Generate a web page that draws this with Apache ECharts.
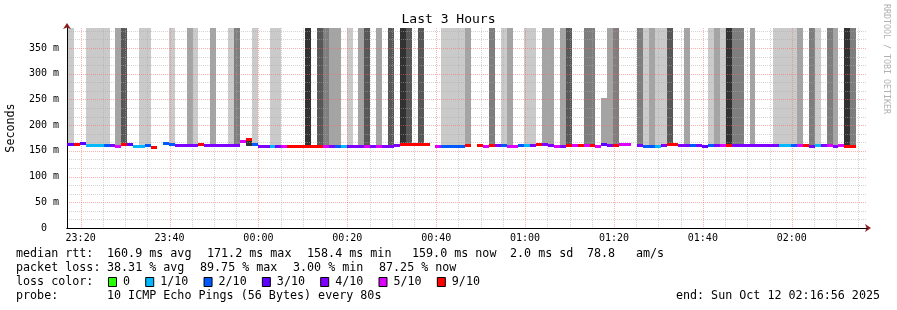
<!DOCTYPE html>
<html><head><meta charset="utf-8">
<script src="https://cdn.jsdelivr.net/npm/echarts@6/dist/echarts.min.js"></script>
<style>html,body{margin:0;padding:0;background:#fff}#c{width:897px;height:310px}</style>
</head><body><div id="c"></div>
<script>
// ---------- data ----------
const chartStart = '23:16:56';
const chartSpanSeconds = 3 * 3600;
const pingStepSeconds = 80;
const firstStepEndSeconds = 14.5;      // first 80 s step boundary after chart start
const yAxisMaxMs = 389;
const yLabelStepMs = 50;
const yMinorPerMajor = 3;
const timeTickLabels = ['23:20','23:40','00:00','00:20','00:40','01:00','01:20','01:40','02:00'];
const minorTickMinutes = 5;

// median rtt per 80 s step (ms), null = no data
const medianMs = [
 163,163,163,165,161,161,161,161,161,159, 162,162,159,159,160,157,null,164,163,161,
 161,161,161,162,161,161,161,161,161,161, 168,171.2,162,159,158,158,158,158,159,159,
 159,159,159,159,158,159,159,159,159,159, 159,159,159,159,159,159,161,163,162,162,
 162,162,null,158,158,158,158,158,160,null, 160,159,160,160,160,158,158,160,160,160,
 162,162,160,158,159,160,160,160,160,160, 158,162,160,160,162,162,null,160,158,159,
 159,160,162,162,160,160,160,160,159,160, 160,160,160,160,160,160,160,160,160,160,
 160,160,160,160,160,160,158,160,160,160, 158,160,159,159,null,null
];
// packet loss per step (tenths lost, 9 = 6..10 bucket)
const lossTenths = [
 3,3,9,3,1,1,1,2,4,5, 9,3,1,1,2,9,0,2,2,4,
 4,4,4,9,4,4,4,4,4,4, 5,9,2,4,4,1,4,5,9,9,
 9,9,9,9,5,4,2,1,4,4, 4,5,4,5,4,4,4,9,9,9,
 9,9,0,5,2,2,2,2,9,0, 9,5,9,4,2,5,5,2,1,4,
 9,4,4,5,4,9,5,9,5,9, 5,3,4,9,5,5,0,4,2,2,
 1,4,9,9,4,4,2,4,3,2, 4,5,9,4,4,4,4,4,4,4,
 4,1,1,2,5,9,4,1,4,5, 4,5,9,9,0,0
];
// smoke shade level per step (0 none, 1 lightest .. 5 darkest)
const smokeLevel = [
 1,1,0,0,1,1,1,1,0,2, 4,0,0,1,1,0,0,0,1,0,
 0,2,1,0,0,2,0,0,1,3, 0,0,1,0,0,1,1,0,0,0,
 0,5,0,4,3,2,2,0,1,0, 2,4,0,2,0,4,0,5,4,0,
 4,0,0,0,1,1,1,1,2,0, 0,0,3,0,1,2,0,0,1,1,
 0,2,2,0,2,4,0,0,3,3, 0,2,2,3,0,0,0,3,1,2,
 1,1,4,0,0,2,0,0,0,1, 2,1,5,3,3,0,2,0,0,0,
 1,1,1,1,2,0,3,1,0,3, 2,0,5,3,0,0
];
// top of smoke per step (ms); null = beyond chart top
const smokeTopMs = medianMs.map(() => null);
smokeTopMs[91] = 253;
// small smoke patches below the median: [step, low ms, high ms, level]
const nearSmoke = [[31, 159, 171.2, 5]];

const lossLegendLabels = ['0','1/10','2/10','3/10','4/10','5/10','9/10'];
const lossLegendTenths = [0,1,2,3,4,5,9];
const lossColors = ['#26ff00','#00b8ff','#0059ff','#5e00ff','#7e00ff','#dd00ff','#ff0000'];
const smokeGreys = ['#cacaca','#a4a4a4','#7e7e7e','#585858','#323232'];

const rttRow = ['median rtt:','160.9 ms avg','171.2 ms max','158.4 ms min','159.0 ms now','2.0 ms sd','78.8','am/s'];
const lossRow = ['packet loss:','38.31 % avg','89.75 % max','3.00 % min','87.25 % now'];
const probeRow = ['probe:','10 ICMP Echo Pings (56 Bytes) every 80s'];
const endText = 'end: Sun Oct 12 02:16:56 2025';
const titleText = 'Last 3 Hours';
const yName = 'Seconds';
const watermark = 'RRDTOOL / TOBI OETIKER';

// ---------- helpers ----------
const MONO = 'DejaVu Sans Mono';
const toSec = s => { const p = s.split(':').map(Number); return p[0]*3600 + p[1]*60 + (p[2]||0); };
const relSec = s => (toSec(s) - toSec(chartStart) + 86400) % 86400;
const lossColor = t => { let i = 0; lossLegendTenths.forEach((v,k)=>{ if (t >= v) i = k; }); return lossColors[i]; };
const stepStart = j => firstStepEndSeconds + (j-1)*pingStepSeconds;
const stepEnd = j => firstStepEndSeconds + j*pingStepSeconds;

const smokeData = [], medData = [];
medianMs.forEach((m, j) => {
  if (m == null) return;
  medData.push([stepStart(j), stepEnd(j), m, lossTenths[j]]);
  if (smokeLevel[j] > 0) smokeData.push([stepStart(j), stepEnd(j), m, smokeTopMs[j] == null ? yAxisMaxMs : smokeTopMs[j], smokeLevel[j]]);
});
nearSmoke.forEach(([j, lo, hi, lvl]) => smokeData.push([stepStart(j), stepEnd(j), lo, hi, lvl]));

const majorTimes = timeTickLabels.map(relSec);
const vGrid = [];
for (let t = majorTimes[0] - Math.floor(majorTimes[0]/(minorTickMinutes*60))*minorTickMinutes*60; t <= chartSpanSeconds; t += minorTickMinutes*60) {
  if (t <= 0) continue;
  vGrid.push([t, majorTimes.some(mt => Math.abs(mt - t) < 1) ? 1 : 0]);
}
const hGrid = [];
for (let k = 1; k * yLabelStepMs / yMinorPerMajor < yAxisMaxMs; k++) hGrid.push([k * yLabelStepMs / yMinorPerMajor, k % yMinorPerMajor === 0 ? 1 : 0]);

const clip = (r, cs) => echarts.graphic.clipRectByRect(r, {x: cs.x, y: cs.y, width: cs.width, height: cs.height});

const chart = echarts.init(document.getElementById('c'), null, {renderer: 'canvas'});

// legend graphics
const g = [];
const rowY = [254, 268, 282, 296];
const FONT = `11.7px "${MONO}"`;
const rttX = [16, 107, 207, 307, 412, 510, 587, 636];
rttRow.forEach((s,i)=>g.push({type:'text', x:rttX[i], y:rowY[0], style:{text:s, font:FONT, fill:'#000', verticalAlign:'middle'}}));
const lossX = [16, 107, 200, 293, 379];
lossRow.forEach((s,i)=>g.push({type:'text', x:lossX[i], y:rowY[1], style:{text:s, font:FONT, fill:'#000', verticalAlign:'middle'}}));
g.push({type:'text', x:16, y:rowY[2], style:{text:'loss color:', font:FONT, fill:'#000', verticalAlign:'middle'}});
let lx = 108;
lossLegendLabels.forEach((lab, i) => {
  g.push({type:'rect', shape:{x:lx+0.5, y:277.5, width:8, height:9}, style:{fill:lossColors[i], stroke:'#000', lineWidth:1}});
  g.push({type:'text', x:lx+15, y:rowY[2], style:{text:lab, font:FONT, fill:'#000', verticalAlign:'middle'}});
  lx = lx + 15 + lab.length*7.03 + 15.2;
});
g.push({type:'text', x:16, y:rowY[3], style:{text:probeRow[0], font:FONT, fill:'#000', verticalAlign:'middle'}});
g.push({type:'text', x:107, y:rowY[3], style:{text:probeRow[1], font:FONT, fill:'#000', verticalAlign:'middle'}});
g.push({type:'text', x:880, y:rowY[3], style:{text:endText, font:FONT, fill:'#000', verticalAlign:'middle', align:'right'}});
g.push({type:'text', x:882, y:4, rotation:-Math.PI/2, style:{text:watermark, font:`8.3px "${MONO}"`, fill:'#b0b0b0', verticalAlign:'bottom', align:'left'}});

const majorColor = 'rgba(255,100,100,0.5)';
const minorColor = 'rgba(170,170,170,0.5)';

chart.setOption({
  animation: false,
  backgroundColor: '#fff',
  title: {text: titleText, left: 'center', top: 8, textStyle: {fontFamily: MONO, fontSize: 13, fontWeight: 'normal', color: '#000'}},
  grid: {left: 67, right: 30, top: 28, bottom: 82, containLabel: false, outerBoundsMode: 'none'},
  xAxis: [
    {type: 'value', min: 0, max: chartSpanSeconds, z: 3,
     axisLine: {show: true, onZero: false, lineStyle: {color: '#000', width: 1}},
     axisTick: {show: false}, axisLabel: {show: false}, splitLine: {show: false}},
    {type: 'value', min: 0, max: chartSpanSeconds, position: 'bottom', z: 2,
     axisLine: {show: true, onZero: false, lineStyle: {color: '#8b1c1c', width: 1}, symbol: ['none','arrow'], symbolSize: [6, 6], symbolOffset: [0, 4]},
     axisTick: {show: false}, axisLabel: {show: false}, splitLine: {show: false}}
  ],
  yAxis: [
    {type: 'value', min: 0, max: yAxisMaxMs, interval: yLabelStepMs, z: 3,
     name: yName, nameLocation: 'middle', nameRotate: 90, nameGap: 50,
     nameTextStyle: {fontFamily: MONO, fontSize: 11.7, color: '#000'},
     axisLine: {show: true, lineStyle: {color: '#000'}},
     axisTick: {show: false}, splitLine: {show: false},
     axisLabel: {showMaxLabel: false, margin: 8, fontFamily: MONO, fontSize: 10, color: '#000',
       formatter: v => v === 0 ? '0  ' : v + ' m'}},
    {type: 'value', min: 0, max: yAxisMaxMs, position: 'left', z: 2,
     axisLine: {show: true, lineStyle: {color: '#8b1c1c'}, symbol: ['none','arrow'], symbolSize: [6, 6], symbolOffset: [0, 5]},
     axisTick: {show: false}, splitLine: {show: false}, axisLabel: {show: false}}
  ],
  graphic: g,
  series: [
    {type: 'custom', name: 'smoke', z: 1, data: smokeData, clip: true,
     renderItem: (params, api) => {
       const p0 = api.coord([api.value(0), api.value(3)]);
       const p1 = api.coord([api.value(1), api.value(2)]);
       const x0 = Math.round(p0[0]), x1 = Math.round(p1[0]);
       const y0 = Math.round(p0[1]), y1 = Math.round(p1[1]);
       const r = clip({x: x0, y: y0, width: x1 - x0, height: y1 - y0}, params.coordSys);
       return r && {type: 'rect', shape: r, style: {fill: smokeGreys[api.value(4) - 1]}};
     }},
    {type: 'custom', name: 'hgrid', z: 2, data: hGrid,
     renderItem: (params, api) => {
       const cs = params.coordSys; const y = Math.round(api.coord([0, api.value(0)])[1]) + 0.5;
       return {type: 'line', shape: {x1: cs.x, y1: y, x2: cs.x + cs.width, y2: y},
         style: {stroke: api.value(1) ? majorColor : minorColor, lineWidth: 1, lineDash: [1, 1]}};
     }},
    {type: 'custom', name: 'vgrid', z: 2, data: vGrid,
     renderItem: (params, api) => {
       const cs = params.coordSys; const x = Math.round(api.coord([api.value(0), 0])[0]) + 0.5;
       return {type: 'line', shape: {x1: x, y1: cs.y, x2: x, y2: cs.y + cs.height},
         style: {stroke: api.value(1) ? majorColor : minorColor, lineWidth: 1, lineDash: [1, 1]}};
     }},
    {type: 'custom', name: 'median', z: 4, data: medData, clip: true,
     renderItem: (params, api) => {
       const p0 = api.coord([api.value(0), api.value(2)]);
       const p1 = api.coord([api.value(1), api.value(2)]);
       const x0 = Math.round(p0[0]), x1 = Math.round(p1[0]);
       const y = Math.round(p0[1] - 1.5);
       const r = clip({x: x0, y: y, width: x1 - x0, height: 3}, params.coordSys);
       return r && {type: 'rect', shape: r, style: {fill: lossColor(api.value(3))}};
     }},
    {type: 'custom', name: 'timeLabels', z: 5, clip: false, data: majorTimes.map((t,i)=>[t,i]),
     renderItem: (params, api) => {
       const cs = params.coordSys; const x = api.coord([api.value(0), 0])[0];
       return {type: 'text', x: x, y: cs.y + cs.height + 10,
         style: {text: timeTickLabels[api.value(1)], font: `10px "${MONO}"`, fill: '#000', align: 'center', verticalAlign: 'middle'}};
     }}
  ]
});
</script></body></html>
